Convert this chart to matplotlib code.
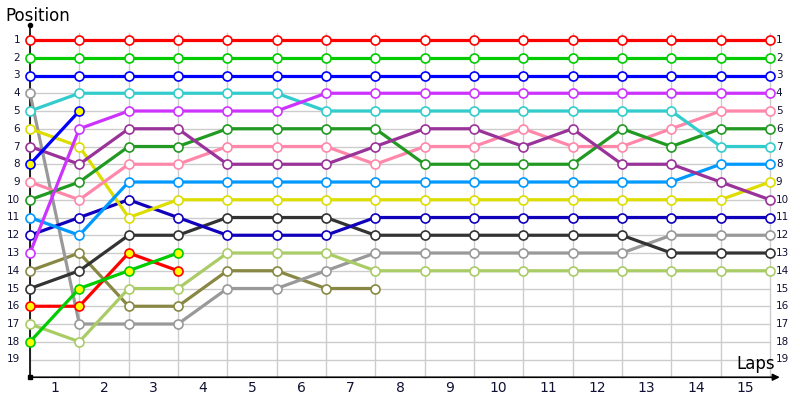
import matplotlib
matplotlib.use("Agg")
import matplotlib.pyplot as plt

laps = list(range(16))
lap_labels = [str(i) for i in range(1, 16)]
positions = list(range(1, 20))

red = [1] * 16
green = [2] * 16
blue = [3] * 16
magenta = [13, 6, 5, 5, 5, 5, 4, 4, 4, 4, 4, 4, 4, 4, 4, 4]
cyan = [5, 4, 4, 4, 4, 4, 5, 5, 5, 5, 5, 5, 5, 5, 7, 7]
purple = [7, 8, 6, 6, 8, 8, 8, 7, 6, 6, 7, 6, 8, 8, 9, 10]
dkgreen = [10, 9, 7, 7, 6, 6, 6, 6, 8, 8, 8, 8, 6, 7, 6, 6]
pink = [9, 10, 8, 8, 7, 7, 7, 8, 7, 7, 6, 7, 7, 6, 5, 5]
ltblue = [11, 12, 9, 9, 9, 9, 9, 9, 9, 9, 9, 9, 9, 9, 8, 8]
yellow = [6, 7, 11, 10, 10, 10, 10, 10, 10, 10, 10, 10, 10, 10, 10, 9]
dkblue = [12, 11, 10, 11, 12, 12, 12, 11, 11, 11, 11, 11, 11, 11, 11, 11]
dkgray = [15, 14, 12, 12, 11, 11, 11, 12, 12, 12, 12, 12, 12, 13, 13, 13]
gray = [4, 17, 17, 17, 15, 15, 14, 13, 13, 13, 13, 13, 13, 12, 12, 12]
ltgreen = [17, 18, 15, 15, 13, 13, 13, 14, 14, 14, 14, 14, 14, 14, 14, 14]
olive = [14, 13, 16, 16, 14, 14, 15, 15]
red_out = [16, 16, 13, 14]
green_out = [18, 15, 14, 13]
blue_out = [8, 5]

series = [
    (olive, "#888844", "white"),
    (gray, "#999999", "white"),
    (ltgreen, "#aacc66", "white"),
    (dkgray, "#333333", "white"),
    (dkblue, "#1100bb", "white"),
    (yellow, "#dddd00", "white"),
    (ltblue, "#0099ff", "white"),
    (pink, "#ff88aa", "white"),
    (dkgreen, "#229922", "white"),
    (purple, "#993399", "white"),
    (cyan, "#33cccc", "white"),
    (magenta, "#cc33ff", "white"),
    (blue, "#0000ff", "white"),
    (green, "#00cc00", "white"),
    (red, "#ff0000", "white"),
    (red_out, "#ff0000", "#ffff00"),
    (green_out, "#00cc00", "#ffff00"),
    (blue_out, "#0000ff", "#ffff00"),
]

fig = plt.figure(figsize=(8, 4), dpi=100)
ax = fig.add_axes([0, 0, 1, 1])
x0px, dxpx = 30.0, 49.33
y0px, dypx = 40.0, 17.75
ax.set_xlim(-x0px / dxpx, (800 - x0px) / dxpx)
ax.set_ylim(1 + (400 - y0px) / dypx, 1 - y0px / dypx)
ax.axis("off")

xmax = laps[-1]
ybot = 20.0
# grid
for p in positions:
    ax.plot([0, xmax], [p, p], color="#cccccc", lw=1, zorder=1)
for l in laps:
    ax.plot([l, l], [0.6, ybot], color="#cccccc", lw=1, zorder=1)

# axes
ax.plot([0, 0], [0.15, ybot], color="black", lw=1.2, zorder=2, clip_on=False)
ax.plot([0], [0.15], marker="o", ms=3, color="black", zorder=2)
ax.plot([0], [ybot], marker="s", ms=2.5, color="black", zorder=2)
ax.annotate("", xy=(15.2, ybot), xytext=(0, ybot),
            arrowprops=dict(arrowstyle="-|>", color="black", lw=1.2,
                            mutation_scale=10, shrinkA=0, shrinkB=0), zorder=2)

for vals, col, fill in series:
    xs = laps[:len(vals)]
    ax.plot(xs, vals, color=col, lw=2.3, zorder=3, solid_capstyle="round",
            marker="o", ms=6.5, mfc=fill, mec=col, mew=1.2)

for p in positions:
    ax.text(-0.2, p, str(p), ha="right", va="center", fontsize=7.5, color="#111133")
    ax.text(15.12, p, str(p), ha="left", va="center", fontsize=7.5, color="#111133")
for i, lab in enumerate(lap_labels):
    ax.text(i + 0.5, 20.6, lab, ha="center", va="center", fontsize=10, color="#111133")

fig.text(5 / 800, 1 - 16 / 400, "Position", fontsize=12, ha="left", va="center")
fig.text(775 / 800, 1 - 364 / 400, "Laps", fontsize=12, ha="right", va="center")

fig.savefig("out.png", dpi=100)
